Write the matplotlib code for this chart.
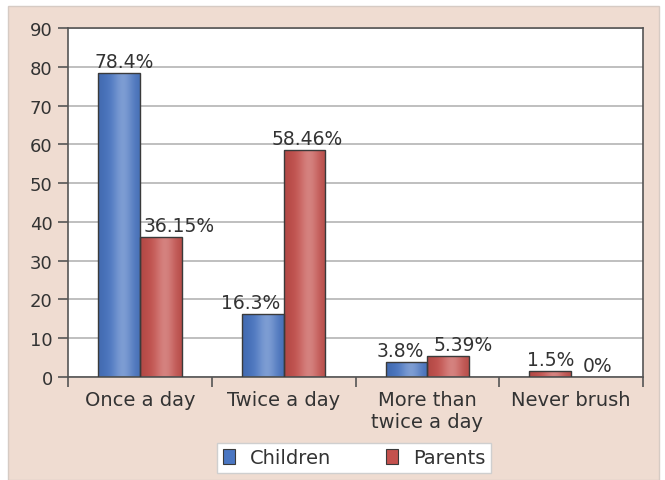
import numpy as np
from matplotlib import pyplot as plt
from matplotlib import colors
from matplotlib.patches import Rectangle, Patch

categories = ['Once a day', 'Twice a day', 'More than\ntwice a day', 'Never brush']
children = [78.4, 16.3, 3.8, 1.5]
parents = [36.15, 58.46, 5.39, 0]
children_labels = ['78.4%', '16.3%', '3.8%', '1.5%']
parents_labels = ['36.15%', '58.46%', '5.39%', '0%']
yticks = list(range(0, 100, 10))

BLUE = '#4a76c2'
RED = '#c4514d'
TEXT = '#333333'
# the never-brush bar was printed in the parents colour
child_fill = [BLUE, BLUE, BLUE, RED]

# small horizontal nudges (pixels) for the value labels
child_dx = [5, -12, -6, 0]
parent_dx = [18, 3, 15, 6]

plt.rcParams['font.family'] = ['DejaVu Sans']


def shade(base):
    # cylinder-like horizontal shading for a bar
    rgb = np.array(colors.to_rgb(base))
    t = np.linspace(0, 1, 64)
    light = 0.28 * np.exp(-((t - 0.6) / 0.25) ** 2)
    dark = 0.10 * (np.abs(t - 0.55) / 0.55) ** 2
    col = rgb[None, :] * (1 - light[:, None]) + light[:, None]
    col = col * (1 - dark[:, None])
    return np.clip(col[None, :, :], 0, 1)


def gradient_bars(ax, bars, fills):
    for bar, c in zip(bars, fills):
        h = bar.get_height()
        if h <= 0:
            continue
        x0 = bar.get_x()
        im = ax.imshow(shade(c), extent=[x0, x0 + bar.get_width(), 0, h],
                       aspect='auto', zorder=2.5, interpolation='bilinear')
        im.set_clip_path(bar)


fig = plt.figure(figsize=(6.65, 4.81), dpi=100, facecolor='white')
fig.patches.append(Rectangle((8 / 665, 0), 651 / 665, 474 / 481,
                             transform=fig.transFigure, facecolor='#efdcd1',
                             edgecolor='#d6cbc4', lw=1, zorder=-1))

ax = fig.add_axes([68 / 665, 1 - 378 / 481, 575 / 665, 349 / 481])
ax.set_facecolor('white')

x = np.arange(len(categories))
w = 0.29
cb = ax.bar(x - w / 2, children, w, color=child_fill, zorder=2, linewidth=0)
pb = ax.bar(x + w / 2, parents, w, color=RED, zorder=2, linewidth=0)
gradient_bars(ax, cb, child_fill)
gradient_bars(ax, pb, [RED] * len(parents))
# outlines on top of the shading
ax.bar(x - w / 2, children, w, fill=False, edgecolor='#3a3a3a', lw=1, zorder=3)
ax.bar(x + w / 2, [p if p > 0 else np.nan for p in parents], w, fill=False,
       edgecolor='#3a3a3a', lw=1, zorder=3)

for i in range(len(categories)):
    ax.annotate(children_labels[i], (x[i] - w / 2, children[i]),
                xytext=(child_dx[i] * 0.72, 4.3), textcoords='offset points',
                ha='center', va='baseline', fontsize=13.5, color=TEXT, zorder=4)
    ax.annotate(parents_labels[i], (x[i] + w / 2, parents[i]),
                xytext=(parent_dx[i] * 0.72, 4.3), textcoords='offset points',
                ha='center', va='baseline', fontsize=13.5, color=TEXT, zorder=4)

ax.set_xlim(-0.5, len(categories) - 0.5)
ax.set_ylim(0, 90)
ax.set_yticks(yticks)
ax.grid(axis='y', color='#b4b4b4', lw=1.2, zorder=1)
ax.set_axisbelow(True)

# category boundaries carry the tick marks, names sit in between
ax.set_xticks(np.arange(-0.5, len(categories)), [''] * (len(categories) + 1))
ax.set_xticks(x, categories, minor=True)
ax.tick_params(axis='x', which='major', direction='out', length=7,
               width=1.2, color='#555555')
ax.tick_params(axis='x', which='minor', length=0, pad=9, labelsize=14,
               labelcolor=TEXT)
ax.tick_params(axis='y', direction='out', length=7, width=1.2,
               color='#555555', pad=4, labelsize=13, labelcolor=TEXT)
ax.tick_params(axis='y', which='minor', left=False)

for s in ax.spines.values():
    s.set_color('#555555')
    s.set_linewidth(1.2)

handles = [Patch(facecolor=BLUE, edgecolor='#3a3a3a', lw=0.8),
           Patch(facecolor=RED, edgecolor='#3a3a3a', lw=0.8)]
leg = fig.legend(handles, ['Children', 'Parents'], loc='center',
                 bbox_to_anchor=(354 / 665, 1 - 459 / 481), ncol=2,
                 fontsize=14, frameon=True, fancybox=False, framealpha=1,
                 edgecolor='#cfcfcf', facecolor='white', handlelength=0.65,
                 handleheight=0.8, handletextpad=0.75, columnspacing=2.8,
                 borderpad=0.3)
for t in leg.get_texts():
    t.set_color(TEXT)

fig.savefig('out.png', dpi=100, facecolor=fig.get_facecolor())
